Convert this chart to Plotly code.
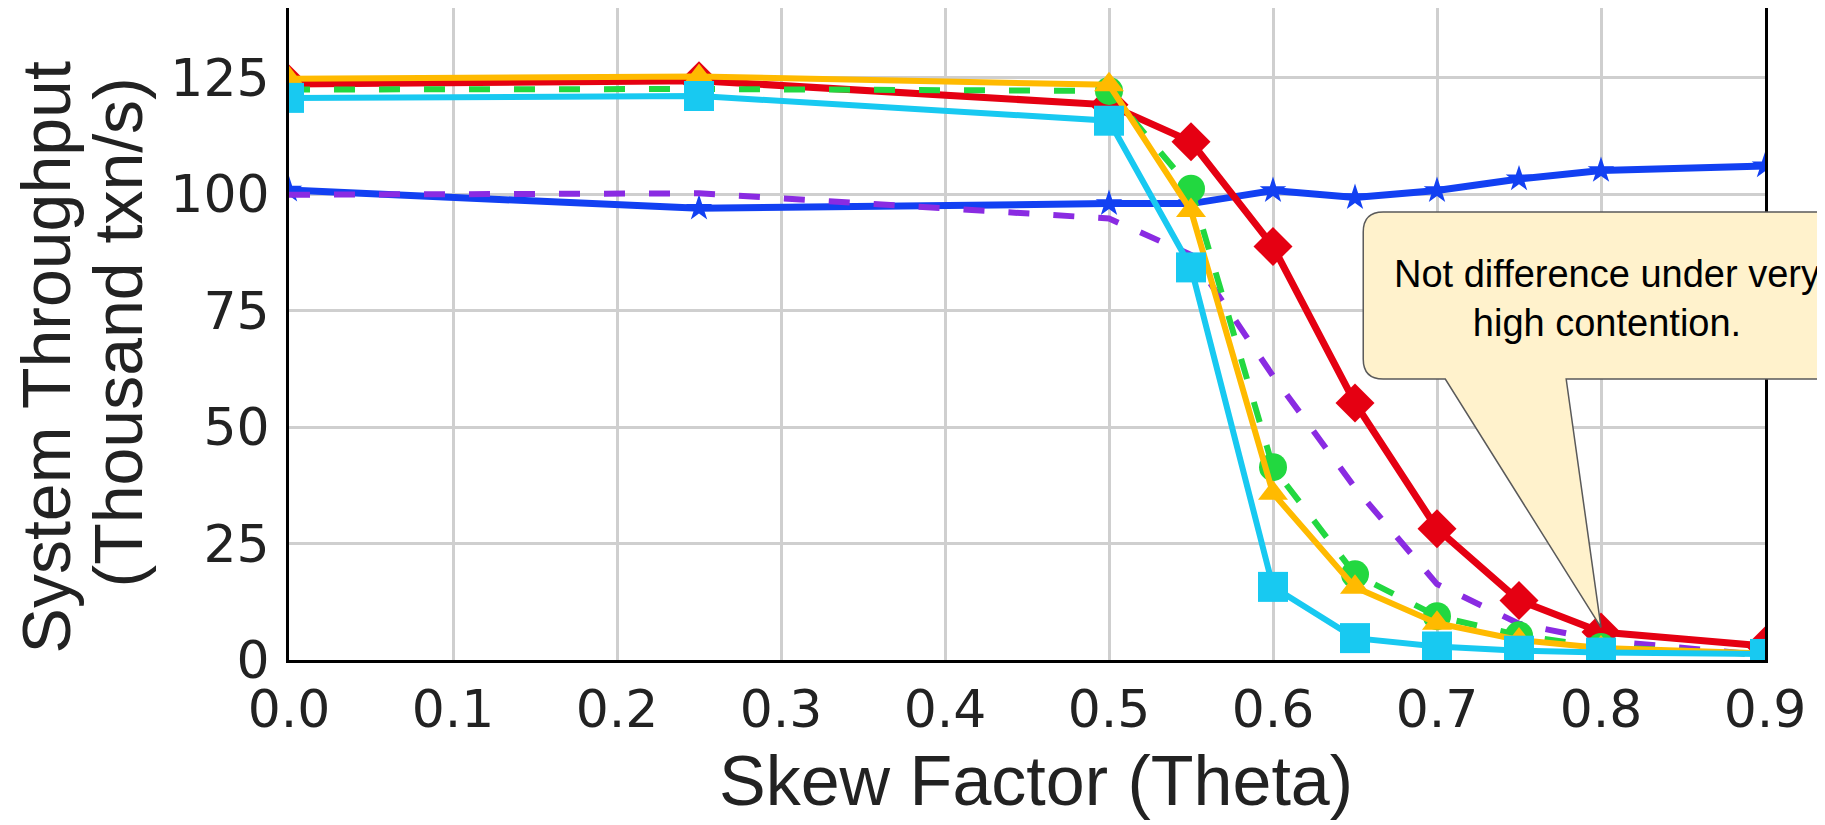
import plotly.graph_objects as go

# ---------------- data ----------------
skew = [0.0, 0.25, 0.5, 0.55, 0.6, 0.65, 0.7, 0.75, 0.8, 0.9]

red_diamond = [123.7, 124.4, 119.2, 111.3, 88.8, 55.2, 28.2, 12.8, 6.0, 3.0]
yellow_triangle = [124.8, 125.3, 123.5, 96.5, 35.8, 15.6, 7.9, 4.3, 2.6, 1.4]
green_circle = [122.5, 122.6, 122.2, 101.2, 41.4, 18.4, 9.4, 5.3, 2.8, 1.2]
cyan_square = [120.7, 121.1, 115.8, 84.3, 15.7, 4.7, 2.9, 2.0, 1.6, 1.3]
purple_dash = [99.9, 100.2, 94.8, 87.0, 61.0, 37.0, 16.3, 7.8, 4.2, 1.0]
blue_star = [100.9, 97.0, 98.0, 98.0, 100.8, 99.3, 100.8, 103.3, 105.1, 106.1]

x_ticks = [0.0, 0.1, 0.2, 0.3, 0.4, 0.5, 0.6, 0.7, 0.8, 0.9]
y_ticks = [0, 25, 50, 75, 100, 125]

x_range = [0, 0.9]
y_range = [0, 140]

callout_text = "Not difference under very<br>high contention."
callout_index = 8  # point the callout tip at theta = 0.8

# ---------------- figure ----------------
fig = go.Figure()

DASH = "21px,24px"

fig.add_trace(go.Scatter(
    x=skew, y=blue_star, mode="lines+markers", name="blue",
    line=dict(color="#1240F2", width=7),
    marker=dict(symbol="star", size=20, color="#1240F2", line=dict(width=0)),
))
fig.add_trace(go.Scatter(
    x=skew, y=purple_dash, mode="lines", name="purple",
    line=dict(color="#8A2BE2", width=6, dash=DASH),
))
fig.add_trace(go.Scatter(
    x=skew, y=red_diamond, mode="lines+markers", name="red",
    line=dict(color="#E50012", width=7),
    marker=dict(symbol="diamond", size=30, color="#E50012", line=dict(width=0)),
))
fig.add_trace(go.Scatter(
    x=skew, y=green_circle, mode="lines+markers", name="green",
    line=dict(color="#22D840", width=6, dash=DASH),
    marker=dict(symbol="circle", size=28, color="#22D840", line=dict(width=0)),
))
fig.add_trace(go.Scatter(
    x=skew, y=yellow_triangle, mode="lines+markers", name="yellow",
    line=dict(color="#FFBA00", width=6),
    marker=dict(symbol="triangle-up", size=26, color="#FFBA00", line=dict(width=0)),
))
fig.add_trace(go.Scatter(
    x=skew, y=cyan_square, mode="lines+markers", name="cyan",
    line=dict(color="#18C9F1", width=6),
    marker=dict(symbol="square", size=30, color="#18C9F1", line=dict(width=0)),
))

# ---------------- callout (speech bubble) ----------------
tip_x = skew[callout_index] / (x_range[1] - x_range[0])
tip_y = (red_diamond[callout_index] + 1.0) / (y_range[1] - y_range[0])

L, R, T, B = 0.7278, 1.07, 0.6871, 0.431
rx, ry = 0.0135, 0.0307
bl, br = 0.7834, 0.8653
path = (
    f"M {L+rx},{T} L {R},{T} L {R},{B} L {br},{B} L {tip_x},{tip_y} L {bl},{B} "
    f"L {L+rx},{B} Q {L},{B} {L},{B+ry} L {L},{T-ry} Q {L},{T} {L+rx},{T} Z"
)
fig.add_shape(type="path", path=path, xref="paper", yref="paper",
              fillcolor="#FFF2CC", line=dict(color="#5A5A5A", width=1.5),
              layer="above")

fig.add_annotation(
    x=0.893, y=0.555, xref="paper", yref="paper", text=callout_text,
    showarrow=False, xanchor="center", yanchor="middle", align="center",
    font=dict(family="Liberation Sans, Arial, sans-serif", size=38, color="#000000"),
)

# ---------------- axis titles ----------------
title_font = dict(family="Liberation Sans, Arial, sans-serif", size=68, color="#222222")
fig.add_annotation(
    x=-0.164, y=0.464, xref="paper", yref="paper", text="System Throughput",
    showarrow=False, textangle=-90, xanchor="center", yanchor="middle",
    font=title_font,
)
fig.add_annotation(
    x=-0.116, y=0.502, xref="paper", yref="paper", text="(Thousand txn/s)",
    showarrow=False, textangle=-90, xanchor="center", yanchor="middle",
    font=title_font,
)
fig.add_annotation(
    x=0.506, y=-0.186, xref="paper", yref="paper", text="Skew Factor (Theta)",
    showarrow=False, xanchor="center", yanchor="middle",
    font=dict(family="Liberation Sans, Arial, sans-serif", size=70, color="#222222"),
)

tick_font = dict(family="DejaVu Sans, Verdana, sans-serif", size=52, color="#222222")

fig.update_xaxes(
    range=x_range, tickmode="array", tickvals=x_ticks,
    ticktext=[f"{v:.1f}" for v in x_ticks],
    showgrid=True, gridcolor="#CFCFCF", gridwidth=3,
    showline=True, linecolor="#000000", linewidth=3, mirror=True,
    ticks="", tickfont=tick_font, ticklabelstandoff=2, zeroline=False,
)
fig.update_yaxes(
    range=y_range, tickmode="array", tickvals=y_ticks,
    showgrid=True, gridcolor="#CFCFCF", gridwidth=3,
    showline=True, linecolor="#000000", linewidth=3, mirror=True,
    ticks="", tickfont=tick_font, ticklabelstandoff=6, zeroline=False,
)

# The page body adds an 8px offset, so the figure is 8px smaller in each
# direction and the margins are set to land the plot area where it belongs.
fig.update_layout(
    width=1817, height=817,
    margin=dict(l=281, r=60, t=0, b=165, autoexpand=False),
    plot_bgcolor="#FFFFFF", paper_bgcolor="#FFFFFF",
    showlegend=False,
)

fig.write_html("out.html")
